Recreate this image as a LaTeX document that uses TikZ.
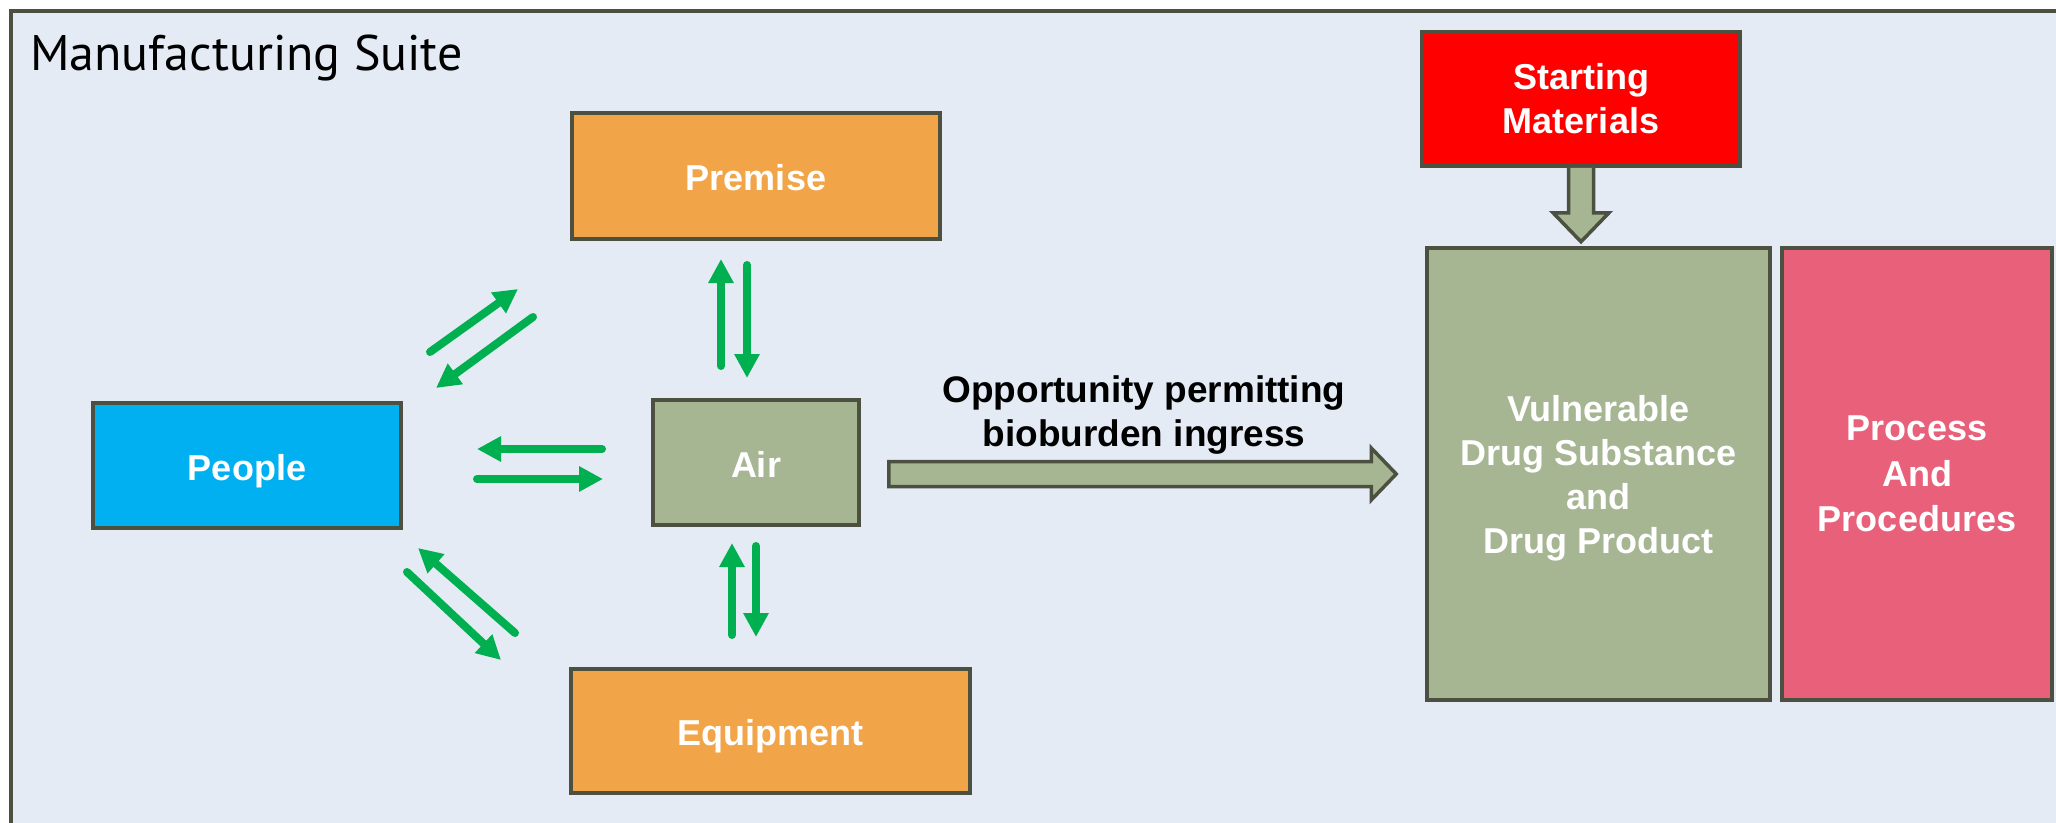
\documentclass[tikz,border=0pt]{standalone}
\usepackage{fontspec}
\setmainfont{Liberation Sans}
\newfontfamily\suitefont{PT Sans}
\usetikzlibrary{arrows.meta,calc}

\definecolor{suitebg}{HTML}{E4EBF4}
\definecolor{edge}{HTML}{4B5040}
\definecolor{flow}{HTML}{00B050}
\definecolor{sage}{HTML}{A6B592}
\definecolor{amber}{HTML}{F2A548}
\definecolor{sky}{HTML}{00B0F0}
\definecolor{alarm}{HTML}{FF0000}
\definecolor{rose}{HTML}{E8607A}

\begin{document}
\begin{tikzpicture}[x=1pt,y=-1pt,
  box/.style={draw=edge, line width=3.5pt, rectangle, inner sep=0pt,
    text=white, align=center, font=\fontsize{36}{44}\selectfont\bfseries},
  oneline/.style={text height=29pt, text depth=0pt},
  flowarrow/.style={draw=flow, line width=8pt, line cap=round,
    -{Triangle[length=24pt,width=24pt]}},
  hollow/.style={draw=edge, fill=sage, line width=3.5pt, line join=miter}
]
\useasboundingbox (0,0) rectangle (2056,822);
\clip (0,0) rectangle (2056,822);

% suite outline
\draw[draw=edge, fill=suitebg, line width=4pt] (11,11) rectangle (2120,900);
\node[anchor=base west, inner sep=0pt, font=\suitefont\fontsize{50}{60}\selectfont]
  (suite) at (30,70) {Manufacturing Suite};

% sources of contamination
\node[box, oneline, fill=amber, minimum width=368pt, minimum height=126pt]
  (premise) at (756,176) {Premise};
\node[box, oneline, fill=sky, minimum width=308pt, minimum height=125pt]
  (people) at (247,465.5) {People};
\node[box, oneline, fill=sage, minimum width=206pt, minimum height=125pt]
  (air) at (756,462.5) {Air};
\node[box, oneline, fill=amber, minimum width=399pt, minimum height=124pt]
  (equipment) at (770.5,731) {Equipment};

% product side
\node[box, fill=alarm, minimum width=318pt, minimum height=134pt]
  (starting) at (1581,99) {Starting\\Materials};
\node[box, text depth=0pt, fill=sage, minimum width=343pt, minimum height=452pt]
  (vulnerable) at (1598.5,474) {Vulnerable\\Drug Substance\\and\\Drug Product};
\node[box, text depth=0pt, fill=rose, minimum width=270pt, minimum height=452pt,
  font=\fontsize{36}{45.5}\selectfont\bfseries]
  (process) at (1917,474) {Process\\And\\Procedures};

% exchanges around the air
\draw[flowarrow] (430,352) -- (518,289);
\draw[flowarrow] (533,317) -- (436,388);
\draw[flowarrow] (602,449) -- (477,449);
\draw[flowarrow] (477,479) -- (603,479);
\draw[flowarrow] (515,633) -- (418,548);
\draw[flowarrow] (407,572) -- (501,660);
\draw[flowarrow] (721,366) -- (721,259);
\draw[flowarrow] (747,265) -- (747,378);
\draw[flowarrow] (732,635) -- (732,543);
\draw[flowarrow] (756,546) -- (756,637);

% ingress arrow
\coordinate (ingressTail) at ($(air.east |- vulnerable.west)+(28,0)$);
\coordinate (ingressTip) at ($(vulnerable.west)+(-29,0)$);
\draw[hollow] ($(ingressTail)+(0,-12.5)$) -- ($(ingressTip)+(-25,-12.5)$)
  -- ($(ingressTip)+(-25,-26)$) -- (ingressTip) -- ($(ingressTip)+(-25,26)$)
  -- ($(ingressTip)+(-25,12.5)$) -- ($(ingressTail)+(0,12.5)$) -- cycle;
\node[inner sep=0pt, align=center, font=\fontsize{37}{44}\selectfont\bfseries]
  (ingressLabel) at (1144,415) {Opportunity permitting\\bioburden ingress};

% starting materials feed
\coordinate (feedTail) at (starting.south);
\coordinate (feedTip) at ($(starting.south)+(0,74)$);
\draw[hollow] ($(feedTail)+(-12.5,0)$) -- ($(feedTip)+(-12.5,-29)$)
  -- ($(feedTip)+(-28,-29)$) -- (feedTip) -- ($(feedTip)+(28,-29)$)
  -- ($(feedTip)+(12.5,-29)$) -- ($(feedTail)+(12.5,0)$);
\end{tikzpicture}
\end{document}
